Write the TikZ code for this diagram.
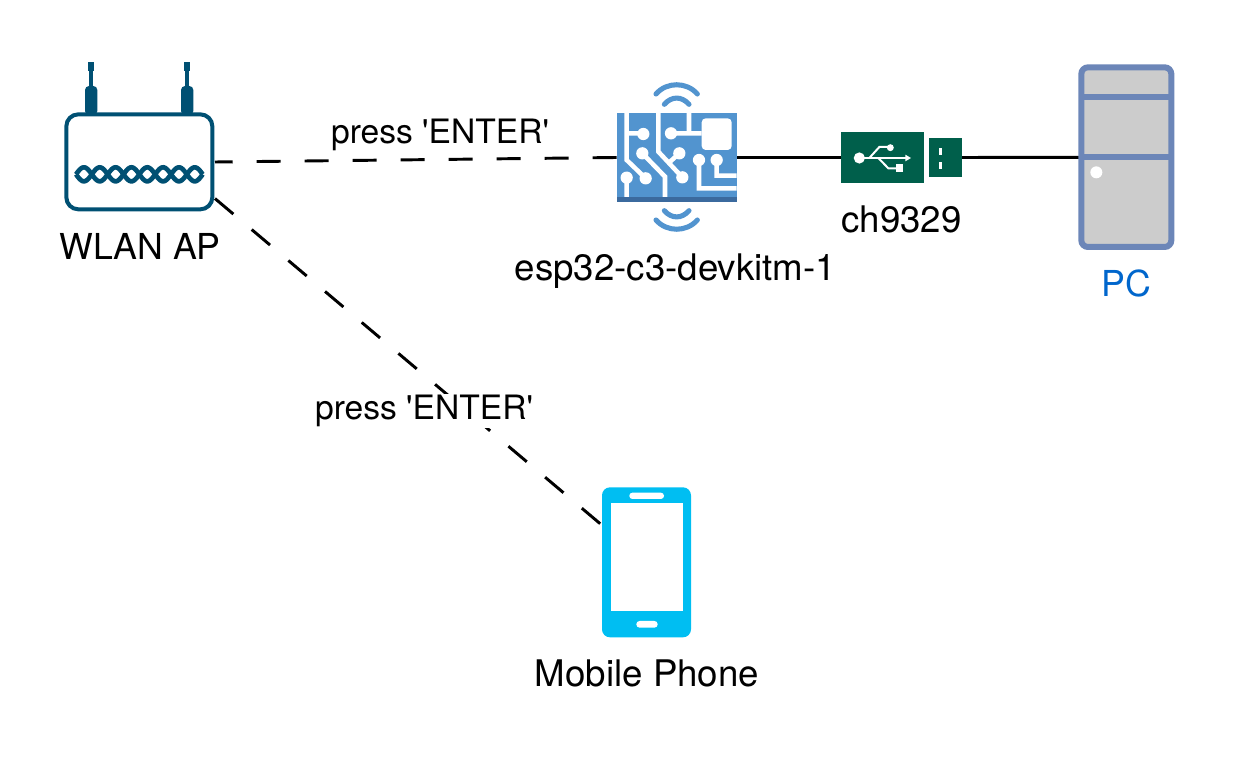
\documentclass[tikz,border=0pt]{standalone}
\usepackage{fontspec}
\setmainfont{TeX Gyre Heros}
\usetikzlibrary{positioning, arrows.meta}

\definecolor{routerblue}{HTML}{005073}
\definecolor{chipblue}{HTML}{5294CF}
\definecolor{chipdark}{HTML}{3B6A9E}
\definecolor{usbgreen}{HTML}{005F4B}
\definecolor{pcblue}{HTML}{6C86B8}
\definecolor{pcgrey}{HTML}{CCCCCC}
\definecolor{pclabel}{HTML}{0066CC}
\definecolor{phoneblue}{HTML}{00BEF2}

\tikzset{
  iconbox/.style={inner sep=0pt, outer sep=0pt},
  namelabel/.style={inner sep=0pt, font=\fontsize{27.5}{30}\selectfont, text height=19.5pt, text depth=5.5pt},
  shortlabel/.style={namelabel, font=\fontsize{26.8}{30}\selectfont},
  presslabel/.style={fill=white, inner sep=1pt, font=\fontsize{25.2}{28}\selectfont},
  wireless/.style={line width=2.2pt, dash pattern=on 18pt off 18pt},
  wire/.style={line width=2.2pt},
  zoomed/.style={x=0.25pt, y=-0.25pt},
  trace/.style={draw=white, line width=3.4pt},
  pad/.style={fill=white}
}

\begin{document}
\begin{tikzpicture}[x=0.75pt, y=-0.75pt]
   \useasboundingbox (0,0) rectangle (1236,762);

   % Anchors of the icons
   \node[iconbox, minimum width=112.5pt, minimum height=73.5pt] (router) at (140,162) {};
   \node[iconbox, minimum width=90pt, minimum height=67.2pt] (esp) at (676.7,157.5) {};
   \node[iconbox, minimum width=90.3pt, minimum height=37.8pt] (usb) at (901.5,157.5) {};
   \node[iconbox, minimum width=71.3pt, minimum height=139.5pt] (pc) at (1126.3,157.3) {};
   \node[iconbox, minimum width=67.5pt, minimum height=112.5pt] (phone) at (647,563) {};

   % Labels
   \node[shortlabel] (routername) [below=17pt of router] {WLAN AP};
   \node[namelabel] (espname) [below=39pt of esp, xshift=-1pt] {esp32-c3-devkitm-1};
   \node[namelabel] (usbname) [below=18pt of usb] {ch9329};
   \node[shortlabel, text=pclabel] (pcname) [below=15pt of pc] {PC};
   \node[namelabel] (phonename) [below=16.5pt of phone] {Mobile Phone};

   % Connections
   \draw[wireless, dash phase=4.7pt] (router.east) -- (esp.west);
   \draw[wireless] (router.-26.9) -- (phone.140);
   \draw[wire] (esp.east) -- (usb.west);
   \draw[wire] (usb.east) -- (pc.west);
   \node[presslabel] (pressesp) at (440,135) {press \textquotesingle ENTER\textquotesingle};
   \node[presslabel] (pressphone) at (424,411) {press \textquotesingle ENTER\textquotesingle};

   % Router
   \begin{scope}[shift={(40,50)}, zoomed]
     \foreach \antenna in {153,441} {
       \fill[routerblue] (\antenna-10,35) rectangle (\antenna+10,62);
       \fill[routerblue] (\antenna-6,60) rectangle (\antenna+6,112);
       \fill[routerblue, rounded corners=3pt] (\antenna-18,195) -- (\antenna-18,108) -- (\antenna+19,108) -- (\antenna+19,195) -- cycle;
     }
     \draw[routerblue, line width=3pt, fill=white, rounded corners=9pt] (79,193) rectangle (517,478);
     \draw[routerblue, line width=3.5pt] plot[domain=108:488, samples=120] (\x, {373+21*sin(3.789*(\x-108))});
     \draw[routerblue, line width=3.5pt] plot[domain=108:488, samples=120] (\x, {373-21*sin(3.789*(\x-108))});
   \end{scope}

   % Chip
   \begin{scope}[shift={(600,70)}, zoomed]
     \fill[chipblue] (50,128) rectangle (410,381);
     \fill[chipdark] (50,381) rectangle (410,397);
     \draw[chipblue, line width=3.8pt, line cap=round]
       (168,72) .. controls (200,35) and (260,35) .. (292,72)
       (193,103) .. controls (215,78) and (245,78) .. (267,103)
       (193,422) .. controls (215,447) and (245,447) .. (267,422)
       (168,450) .. controls (200,487) and (260,487) .. (292,450);
     \draw[trace]
       (80,128) -- (80,270) -- (137,325)
       (80,190) -- (130,190)
       (80,323) -- (80,381)
       (175,128) -- (175,245) -- (247,322)
       (127,250) -- (195,320) -- (195,381)
       (213,190) -- (305,190)
       (267,128) -- (267,190)
       (238,250) -- (207,278)
       (297,270) -- (297,355) -- (410,355)
       (350,270) -- (350,317) -- (410,317);
     \fill[pad, rounded corners=3pt] (305,145) rectangle (395,240);
     \foreach \padx/\pady in {130/192, 137/325, 80/323, 127/250, 213/190, 238/250, 247/322, 297/270, 350/270}
       \fill[pad] (\padx,\pady) circle (4.6pt);
   \end{scope}

   % USB stick
   \begin{scope}[shift={(830,120)}, zoomed]
     \fill[usbgreen] (34,37) rectangle (283,188);
     \fill[usbgreen] (298,55) rectangle (395,172);
     \fill[white] (328,83) rectangle (335,105);
     \fill[white] (328,125) rectangle (335,148);
     \fill[white] (88,114) circle (4.2pt);
     \draw[white, line width=1.5pt] (88,114) -- (232,114);
     \draw[white, line width=1.5pt] (118,114) -- (148,81) -- (175,81);
     \draw[white, line width=1.5pt] (145,114) -- (175,145) -- (200,145);
     \fill[white] (181,83) circle (2.6pt);
     \fill[white] (197,133) rectangle (218,155);
     \fill[white] (226,104) -- (243,114) -- (226,124) -- cycle;
   \end{scope}

   % PC
   \begin{scope}[shift={(1060,55)}, zoomed]
     \draw[pcblue, fill=pcgrey, line width=4.5pt, rounded corners=5pt] (64,37) rectangle (334,576);
     \draw[pcblue, line width=4.5pt] (64,127) -- (334,127) (64,307) -- (334,307);
     \fill[white] (109,352) circle (4.5pt);
   \end{scope}

   % Phone
   \begin{scope}[shift={(590,480)}, zoomed]
     \fill[phoneblue, rounded corners=6pt] (36,22) rectangle (303,472);
     \fill[white] (62,70) rectangle (278,393);
     \fill[white, rounded corners=2.3pt] (118,38) rectangle (222,57);
     \fill[white, rounded corners=2.4pt] (139,423) rectangle (203,443);
   \end{scope}
\end{tikzpicture}
\end{document}
